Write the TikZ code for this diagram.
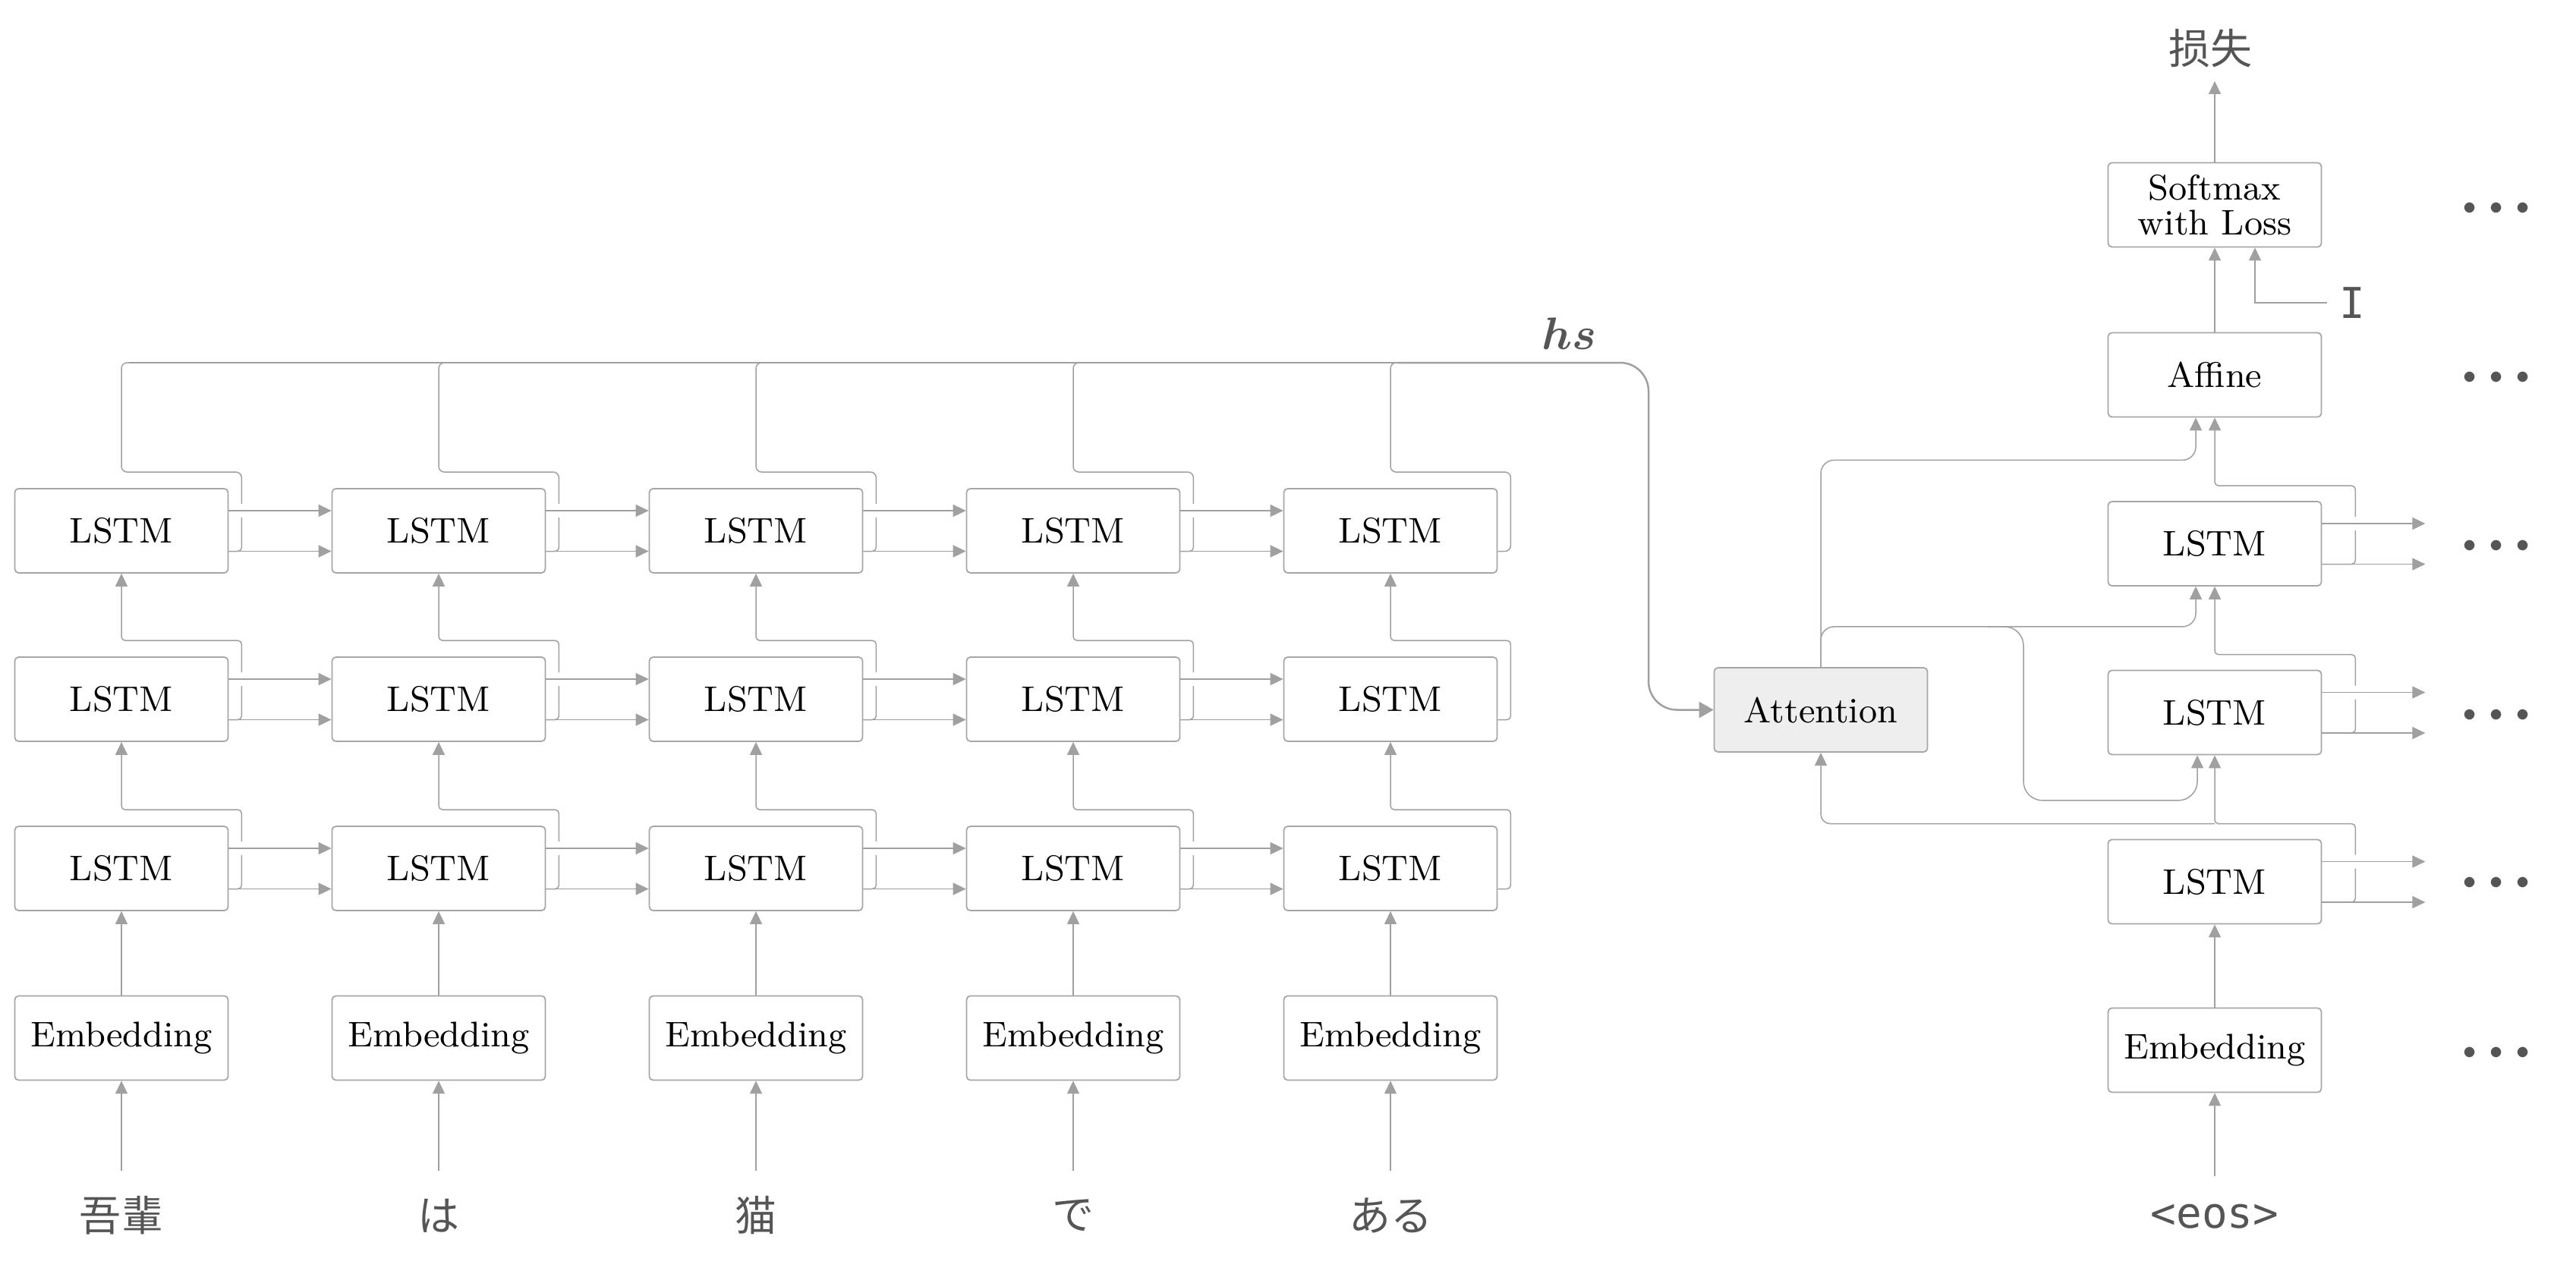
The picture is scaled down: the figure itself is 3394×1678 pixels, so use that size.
\documentclass[tikz,border=0pt]{standalone}
\usepackage{bm}
\usepackage{fontspec}
\newfontfamily\cjk{Noto Sans CJK SC}
\newfontfamily\dmono{DejaVu Sans Mono}
\usetikzlibrary{arrows.meta,calc}
\definecolor{linegray}{HTML}{A0A0A0}
\definecolor{boxgray}{HTML}{A6A6A6}
\definecolor{attfill}{HTML}{EEEEEE}
\definecolor{txtgray}{HTML}{555555}
\begin{document}
\begin{tikzpicture}[x=0.2pt,y=-0.2pt,
  ln/.style={draw=linegray, line width=0.3pt},
  arr/.style={ln, -{Triangle[length=3.4pt,width=3.2pt]}},
  box/.style={draw=boxgray, line width=0.35pt, rounded corners=1pt, fill=white,
    minimum width=56.2pt, minimum height=22.2pt, inner sep=0pt, align=center,
    font=\fontsize{9.4}{9.2}\selectfont},
  word/.style={text=txtgray, font=\cjk\fontsize{11}{13}\selectfont, inner sep=0pt},
  mono/.style={text=txtgray, font=\dmono\fontsize{11.2}{13}\selectfont, inner sep=0pt},
  dots/.style={text=txtgray, font=\fontsize{5.7}{6}\selectfont, inner sep=0pt},
  hsstyle/.style={text=txtgray, font=\fontsize{13}{15}\selectfont, inner sep=0pt}]
\useasboundingbox (0,0) rectangle (3394,1678);

% ---------------- encoder nodes
\foreach \i/\w in {0/吾輩,1/は,2/猫,3/で,4/ある}{
  \pgfmathsetmacro\cx{160+418*\i}
  \node[box] (eL1-\i) at (\cx,699.5) {LSTM};
  \node[box] (eL2-\i) at (\cx,921.5) {LSTM};
  \node[box] (eL3-\i) at (\cx,1144.5) {LSTM};
  \node[box] (eE-\i) at (\cx,1368) {Embedding};
  \node[word] (w-\i) at (\cx,1602) {\w};
  \coordinate (in-\i) at (\cx,1543);
}

% ---------------- decoder nodes
\node[box] (sm) at (2918,270) {Softmax\\with Loss};
\node[box] (af) at (2918,494) {Affine};
\node[box] (dL1) at (2918,716.5) {LSTM};
\node[box] (dL2) at (2918,939) {LSTM};
\node[box] (dL3) at (2918,1162) {LSTM};
\node[box] (dE) at (2918,1384) {Embedding};
\node[box, fill=attfill] (att) at (2399,935.5) {Attention};
\node[mono] (eos) at (2918,1603) {<eos>};
\coordinate (eosin) at (2918,1550);
\node[word] (loss) at (2912,64) {损失};
\coordinate (lossin) at (2918,107);
\node[mono] (tI) at (3099,399) {I};
\coordinate (tIl) at (3066,399);
\node[hsstyle] (hslab) at (2067,440) {$\bm{hs}$};
\coordinate (hsR) at (2172,478);
\foreach \y [count=\k] in {274,497,719,942,1163,1387}{
  \node[dots] (dots\k) at (3289,\y) {$\bullet$\hspace{3.15pt}$\bullet$\hspace{3.15pt}$\bullet$};
}

% ---------------- encoder connectors
\foreach \i in {0,...,4}{
  \draw[arr] (in-\i) -- (eE-\i);
  \draw[arr] (eE-\i) -- (eL3-\i);
}
\foreach \i/\j in {0/1,1/2,2/3,3/4}{
  \foreach \r in {1,2,3}{
    \draw[arr] ([shift={(0,-26.5)}]eL\r-\i.east) -- ([shift={(0,-26.5)}]eL\r-\j.west);
    \draw[arr] ([shift={(0,27)}]eL\r-\i.east) -- ([shift={(0,27)}]eL\r-\j.west);
  }
}
\foreach \i in {0,...,3}{
  \foreach \r in {1,2,3}{
    \draw[ln, rounded corners=1pt] ([shift={(0,27)}]eL\r-\i.east) -- ([shift={(17,27)}]eL\r-\i.east) -- ([shift={(17,-17.5)}]eL\r-\i.east);
  }
  \foreach \r/\t in {2/1,3/2}{
    \draw[arr, rounded corners=1pt] ([shift={(17,-35.5)}]eL\r-\i.east) -- ([shift={(17,-21)}]eL\r-\i.north east) -- ([shift={(0,-21)}]eL\r-\i.north) -- (eL\t-\i.south);
  }
  \draw[ln, rounded corners=1.5pt] ([shift={(17,-35.5)}]eL1-\i.east) -- ([shift={(17,-21)}]eL1-\i.north east) -- ([shift={(0,-21)}]eL1-\i.north) -- (eL1-\i.north |- hsR) -- ($(eL1-\i.north |- hsR)+(20,0)$);
}
\foreach \r/\t in {2/1,3/2}{
  \draw[arr, rounded corners=1pt] ([shift={(0,27)}]eL\r-4.east) -- ([shift={(17,27)}]eL\r-4.east) -- ([shift={(17,-21)}]eL\r-4.north east) -- ([shift={(0,-21)}]eL\r-4.north) -- (eL\t-4.south);
}
\draw[ln, rounded corners=1.5pt] ([shift={(0,27)}]eL1-4.east) -- ([shift={(17,27)}]eL1-4.east) -- ([shift={(17,-21)}]eL1-4.north east) -- ([shift={(0,-21)}]eL1-4.north) -- (eL1-4.north |- hsR) -- ($(eL1-4.north |- hsR)+(20,0)$);

% hs line
\draw[ln] ($(eL1-0.north |- hsR)+(10,0)$) -- ($(eL1-4.north |- hsR)+(12,0)$);
\draw[draw=linegray, line width=0.5pt, rounded corners=7.5pt, -{Triangle[length=3.8pt,width=4.2pt]}]
  ($(eL1-4.north |- hsR)+(10,0)$) -- (hsR) -- (hsR |- att.west) -- (att.west);

% ---------------- decoder connectors
\draw[arr] (eosin) -- (dE);
\draw[arr] (dE) -- (dL3);
\foreach \r in {1,2,3}{
  \coordinate (dU\r) at ([shift={(136,-26.5)}]dL\r.east);
  \coordinate (dD\r) at ([shift={(136,27)}]dL\r.east);
  \draw[arr] ([shift={(0,-26.5)}]dL\r.east) -- (dU\r);
  \draw[arr] ([shift={(0,27)}]dL\r.east) -- (dD\r);
  \draw[ln, rounded corners=1pt] ([shift={(0,27)}]dL\r.east) -- ([shift={(44,27)}]dL\r.east) -- ([shift={(44,-17.5)}]dL\r.east);
}
\foreach \r/\t in {1/af,2/dL1,3/dL2}{
  \draw[arr, rounded corners=1pt] ([shift={(44,-35.5)}]dL\r.east) -- ([shift={(44,-20)}]dL\r.north east) -- ([shift={(0,-20)}]dL\r.north) -- (\t.south);
}
\draw[arr, rounded corners=2.5pt] ([shift={(0,-20)}]dL3.north) -| (att.south);
\draw[arr, rounded corners=3.5pt] (att.north) |- ([shift={(-25,56)}]af.south) -- ([shift={(-25,0)}]af.south);
\draw[arr, rounded corners=3.5pt] (att.north) |- ([shift={(-25,53)}]dL1.south) -- ([shift={(-25,0)}]dL1.south);
\draw[arr, rounded corners=5pt] ([shift={(-300,-169.5)}]dL2.south) -- ([shift={(-252,-169.5)}]dL2.south) -- ([shift={(-252,59.5)}]dL2.south) -- ([shift={(-23,59.5)}]dL2.south) -- ([shift={(-23,0)}]dL2.south);
\draw[arr] (af) -- (sm);
\draw[arr] (tIl) -| ([shift={(53,0)}]sm.south);
\draw[arr] (sm) -- (lossin);
\end{tikzpicture}
\end{document}
